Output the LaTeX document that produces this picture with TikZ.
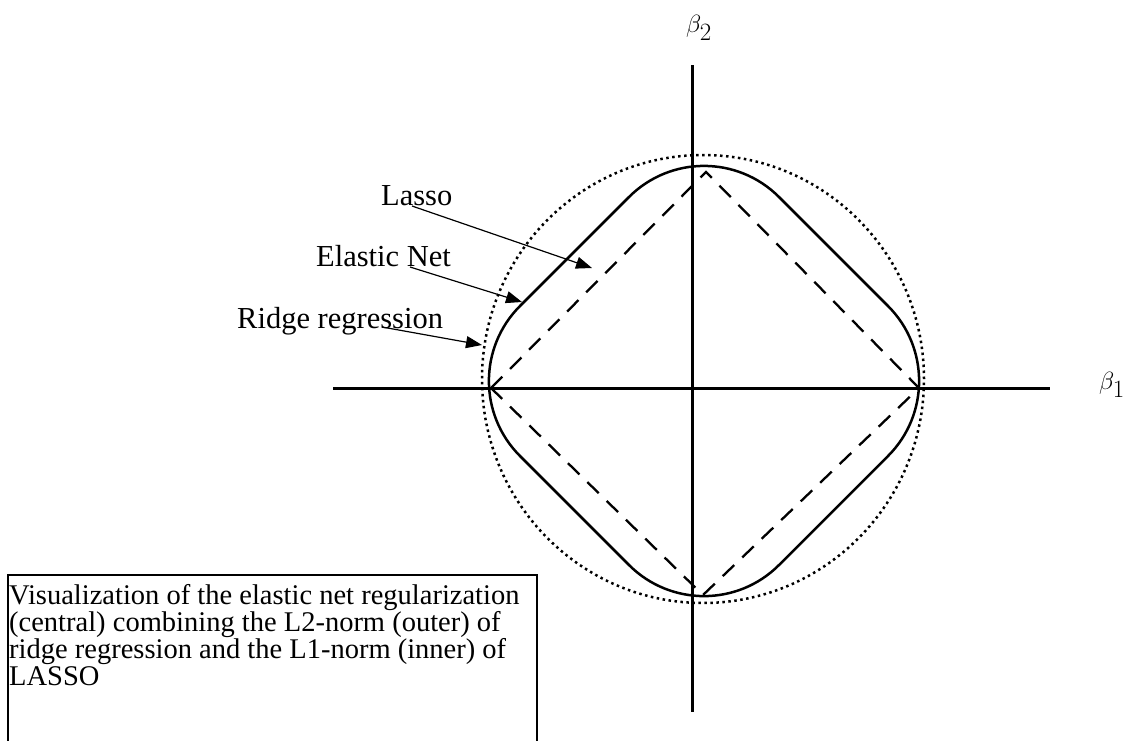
\documentclass[tikz,border=0pt]{standalone}
\usepackage{fontspec}
\setmainfont{Liberation Serif}
\usetikzlibrary{arrows.meta}
\begin{document}
\begin{tikzpicture}[x=1pt,y=-1pt,
  axisline/.style={line width=3pt},
  enet/.style={line width=2.5pt},
  lassoline/.style={line width=2.3pt, dash pattern=on 16pt off 11pt},
  ridgeline/.style={line width=2.5pt, dash pattern=on 2.5pt off 3.5pt},
  lbl/.style={inner sep=0pt, anchor=base west, font=\fontsize{30.5}{34}\selectfont},
  capline/.style={inner sep=0pt, anchor=base west, font=\fontsize{28.5}{27}\selectfont},
  betalbl/.style={inner sep=0pt, font=\fontsize{38}{40}\selectfont},
  pointer/.style={line width=1.2pt, -{Triangle[length=16pt,width=12pt]}},
  capbox/.style={line width=1.5pt}
]
\useasboundingbox (0,0) rectangle (1130,740);
% axes
\coordinate (xl) at (333,388);
\coordinate (xr) at (1050,388);
\coordinate (yt) at (692,65);
\coordinate (yb) at (692,712);
\draw[axisline] (xl) -- (xr);
\draw[axisline] (yt) -- (yb);
\node[betalbl] (b1) at (1112,385) {$\beta_1$};
\node[betalbl] (b2) at (699,28) {$\beta_2$};
% ridge circle
\draw[ridgeline] (703,379) ellipse [x radius=221pt, y radius=224pt];
% elastic net: rounded square, corner radius 106
\coordinate (e1) at (519.95,306.05);
\coordinate (e2) at (629.05,196.95);
\coordinate (e3) at (888.05,306.05);
\coordinate (e4) at (778.95,565.05);
\coordinate (e5) at (519.95,455.95);
\draw[enet] (e1) -- (e2) arc[start angle=135, end angle=45, radius=106pt]
  -- (e3) arc[start angle=45, end angle=-45, radius=106pt]
  -- (e4) arc[start angle=-45, end angle=-135, radius=106pt]
  -- (e5) arc[start angle=225, end angle=135, radius=106pt] -- cycle;
% lasso diamond
\coordinate (dl) at (491,388);
\coordinate (dt) at (706,172);
\coordinate (dr) at (919,388);
\coordinate (db) at (703,595);
\draw[lassoline] (dl) -- (dt) -- (dr) -- (db) -- cycle;
% labels
\node[lbl] (lassolbl) at (381,205) {Lasso};
\node[lbl] (enetlbl) at (316,266) {Elastic Net};
\node[lbl] (ridgelbl) at (237,328) {Ridge regression};
\coordinate (lassostart) at (412,206);
\coordinate (lassotip) at (592,268);
\coordinate (enetstart) at (410,267);
\coordinate (enettip) at (522,302);
\coordinate (ridgestart) at (382,327);
\coordinate (ridgetip) at (482,345);
\draw[pointer] (lassostart) -- (lassotip);
\draw[pointer] (enetstart) -- (enettip);
\draw[pointer] (ridgestart) -- (ridgetip);
% caption box
\coordinate (cb1) at (8,745);
\coordinate (cb2) at (8,575);
\coordinate (cb3) at (537,575);
\coordinate (cb4) at (537,745);
\draw[capbox] (cb1) -- (cb2) -- (cb3) -- (cb4);
\node[capline] (c1) at (9,604) {Visualization of the elastic net regularization};
\node[capline] (c2) at (9,631) {(central) combining the L2-norm (outer) of};
\node[capline] (c3) at (9,658) {ridge regression and the L1-norm (inner) of};
\node[capline] (c4) at (9,685) {LASSO};
\end{tikzpicture}
\end{document}
